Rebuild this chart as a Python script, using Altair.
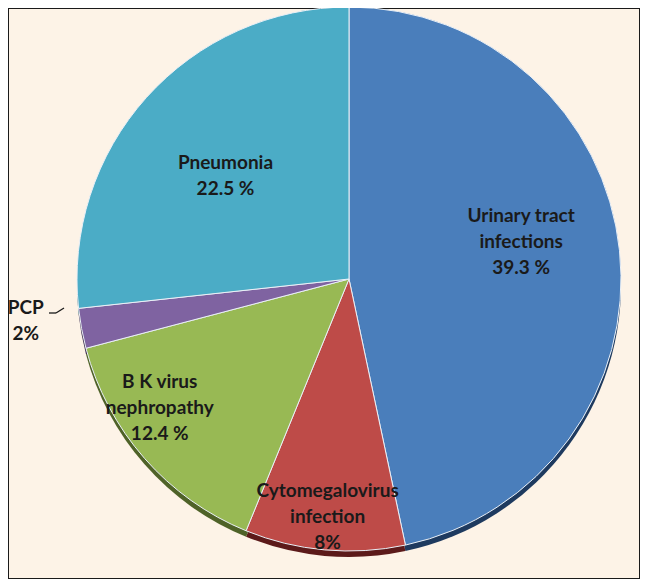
import altair as alt
import pandas as pd

categories = ["Urinary tract infections", "Cytomegalovirus infection",
              "B K virus nephropathy", "PCP", "Pneumonia"]
label_text = ["Urinary tract\ninfections\n39.3 %", "Cytomegalovirus\ninfection\n8%",
              "B K virus\nnephropathy\n12.4 %", "PCP\n2%", "Pneumonia\n22.5 %"]
values = [39.3, 8, 12.4, 2, 22.5]

colors = ["#4A7EBB", "#BE4B48", "#98B954", "#7F63A1", "#4BACC6"]
edge_colors = ["#1E3A5F", "#5C1A1A", "#4F6228", "#3F3151", "#215968"]

# label layout (pixels / degrees), kept apart from the data
label_radius = [176, 239, 229, 326, 161]
label_shift_deg = [-6, 0, 7, 3, -2]

CX, CY, R = 341, 271, 272
LH = 26

df = pd.DataFrame({
    "category": categories,
    "label": label_text,
    "value": values,
    "order": list(range(len(categories))),
    "r": label_radius,
    "shift": label_shift_deg,
})

base = alt.Chart(df)

edge = base.mark_arc(radius=R).encode(
    theta=alt.Theta("value:Q", stack=True),
    order=alt.Order("order:Q"),
    color=alt.Color("category:N", scale=alt.Scale(domain=categories, range=edge_colors), legend=None),
    x=alt.value(CX), y=alt.value(CY + 6),
)

pie = base.mark_arc(radius=R, stroke="#EAF0F7", strokeWidth=1).encode(
    theta=alt.Theta("value:Q", stack=True),
    order=alt.Order("order:Q"),
    color=alt.Color("category:N", scale=alt.Scale(domain=categories, range=colors), legend=None),
    x=alt.value(CX), y=alt.value(CY),
)

labels = base.transform_window(
    cum="sum(value)", sort=[alt.SortField("order")]
).transform_joinaggregate(
    total="sum(value)"
).transform_calculate(
    ang="(datum.cum - datum.value/2) / datum.total * 2 * PI + datum.shift * PI / 180",
    nl="length(split(datum.label, '\\n'))",
).transform_calculate(
    px=f"{CX} + datum.r * sin(datum.ang)",
    py=f"{CY} - datum.r * cos(datum.ang) - (datum.nl - 1) * {LH} / 2",
).mark_text(
    font="Lato", fontWeight="bold", fontSize=19, color="#1A1A1A",
    lineBreak="\n", lineHeight=LH, align="center", baseline="middle",
).encode(
    x=alt.X("px:Q", scale=None),
    y=alt.Y("py:Q", scale=None),
    text="label:N",
)

leader1 = alt.Chart(pd.DataFrame({"k": [0]})).mark_rule(color="#1A1A1A", strokeWidth=1.3).encode(
    x=alt.value(41), y=alt.value(305), x2=alt.value(48), y2=alt.value(305)
)
leader2 = alt.Chart(pd.DataFrame({"k": [0]})).mark_rule(color="#1A1A1A", strokeWidth=1.3).encode(
    x=alt.value(48), y=alt.value(305), x2=alt.value(56), y2=alt.value(300)
)

chart = alt.layer(edge, pie, labels, leader1, leader2).resolve_scale(
    color="independent"
).properties(
    width=632, height=571,
    autosize=alt.AutoSizeParams(type="none"),
    padding=0,
    background="#FDF3E7",
).configure_view(stroke="#1A1A1A", strokeWidth=2)

chart.save("out.html", embed_options={"renderer": "svg", "actions": False})
